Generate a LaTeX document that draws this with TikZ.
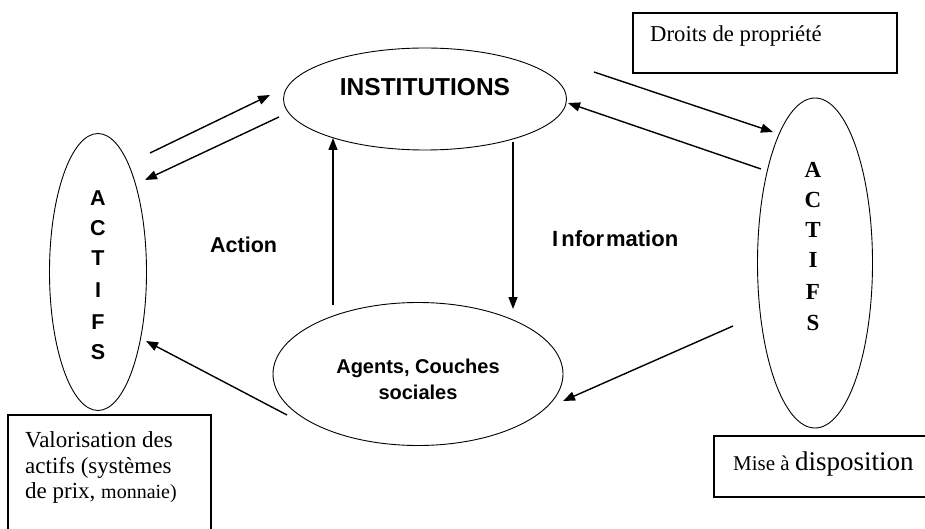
\documentclass[tikz,border=0pt]{standalone}
\usepackage{fontspec}
\setmainfont{Liberation Serif}
\setsansfont{Liberation Sans}
\usetikzlibrary{arrows.meta,shapes.geometric}
\tikzset{
  oval/.style={draw, ellipse, line width=0.9pt, inner sep=0pt},
  box/.style={draw, line width=1.1pt},
  arr/.style={line width=1.4pt, -{Triangle[length=12pt,width=9pt]}},
  txt/.style={inner sep=0pt, anchor=base west},
  sletter/.style={inner sep=0pt, font=\fontsize{21.5}{21.5}\selectfont\sffamily\bfseries},
  rletter/.style={inner sep=0pt, font=\fontsize{23}{23}\selectfont\rmfamily\bfseries},
}
\begin{document}
\begin{tikzpicture}[x=1pt,y=-1pt]
\useasboundingbox[fill=white] (0,0) rectangle (925,529);

% boxes
\draw[box] (633,13) rectangle (897,73);
\node[txt, font=\fontsize{22.7}{22.7}\selectfont] (droits) at (650,42) {Droits de propriété};

\draw[box] (8,415) rectangle (211,540);
\node[txt, font=\fontsize{23}{23}\selectfont] (val1) at (25,447) {Valorisation des};
\node[txt, font=\fontsize{23}{23}\selectfont] (val2) at (25,473) {actifs (systèmes};
\node[txt, font=\fontsize{23}{23}\selectfont] (val3) at (25,498) {de prix, {\fontsize{20}{20}\selectfont monnaie)}};

\draw[box] (714,436) rectangle (935,497);
\node[txt] (mise) at (733,470) {\fontsize{21}{21}\selectfont Mise à \fontsize{27}{27}\selectfont disposition};

% ellipses
\node[oval, minimum width=283pt, minimum height=102pt] (inst) at (425,99) {};
\node[inner sep=0pt, anchor=base, font=\fontsize{24.5}{24.5}\selectfont\sffamily\bfseries] (instt) at (425,96) {INSTITUTIONS};

\node[oval, minimum width=290pt, minimum height=143pt] (agents) at (418,374) {};
\node[inner sep=0pt, anchor=base, font=\fontsize{20}{20}\selectfont\sffamily\bfseries] (ag1) at (418,373) {Agents, Couches};
\node[inner sep=0pt, anchor=base, font=\fontsize{20}{20}\selectfont\sffamily\bfseries] (ag2) at (418,399) {sociales};

\node[oval, minimum width=97pt, minimum height=277pt] (lact) at (98,272) {};
\node[sletter] (la) at (98,198) {A};
\node[sletter] (lc) at (98,228) {C};
\node[sletter] (lt) at (98,258) {T};
\node[sletter] (li) at (98,290) {I};
\node[sletter] (lf) at (98,322) {F};
\node[sletter] (ls) at (98,352) {S};

\node[oval, minimum width=115pt, minimum height=330pt] (ract) at (815,263) {};
\node[rletter] (ra) at (813,170) {A};
\node[rletter] (rc) at (813,200) {C};
\node[rletter] (rt) at (813,230) {T};
\node[rletter] (ri) at (813,260) {I};
\node[rletter] (rf) at (813,292) {F};
\node[rletter] (rs) at (813,323) {S};

% labels
\node[txt, font=\fontsize{21.5}{21.5}\selectfont\sffamily\bfseries] (action) at (210,252) {Action};
\node[txt, font=\fontsize{22}{22}\selectfont\sffamily\bfseries] (info) at (552,247) {I\hspace{3pt}nfor\hspace{2pt}mation};

% connector end points
\coordinate (a1s) at (150,153); \coordinate (a1e) at (270,95);
\coordinate (a2s) at (279,117); \coordinate (a2e) at (145,180);
\coordinate (a3s) at (594,72);  \coordinate (a3e) at (773,132);
\coordinate (a4s) at (761,169); \coordinate (a4e) at (568,103);
\coordinate (a5s) at (513,142); \coordinate (a5e) at (513,309);
\coordinate (a6s) at (333,305); \coordinate (a6e) at (333,138);
\coordinate (a7s) at (287,415); \coordinate (a7e) at (146,341);
\coordinate (a8s) at (733,326); \coordinate (a8e) at (563,401);

\draw[arr] (a1s) -- (a1e);
\draw[arr] (a2s) -- (a2e);
\draw[arr] (a3s) -- (a3e);
\draw[arr] (a4s) -- (a4e);
\draw[arr] (a5s) -- (a5e);
\draw[arr] (a6s) -- (a6e);
\draw[arr] (a7s) -- (a7e);
\draw[arr] (a8s) -- (a8e);
\end{tikzpicture}
\end{document}
